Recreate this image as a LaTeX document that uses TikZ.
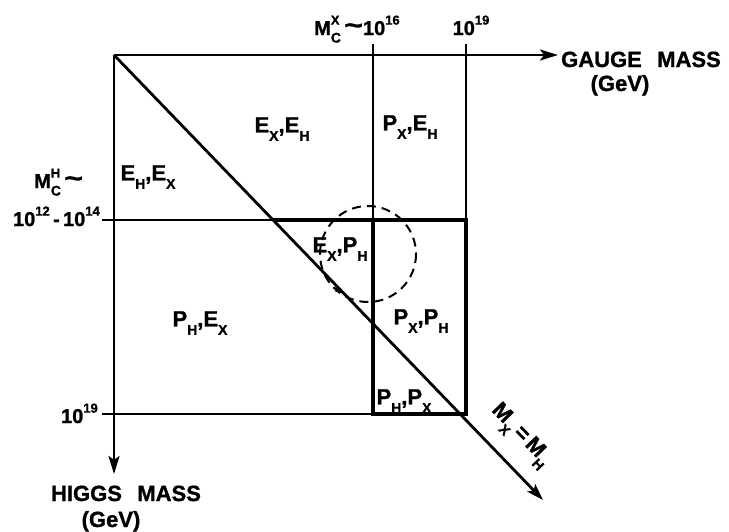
\documentclass[tikz,border=0pt]{standalone}
\usepackage{fontspec}
\setmainfont{Liberation Sans}[BoldFeatures={FakeBold=1.2}]
\usetikzlibrary{arrows.meta}
\newcommand\lo[1]{\raisebox{-0.38em}{\fontsize{14}{14}\selectfont\bfseries #1}}
\newcommand\hi[1]{\raisebox{0.52em}{\fontsize{13}{13}\selectfont\bfseries #1}}
\newcommand\hilo[2]{\makebox[0pt][l]{\hi{#1}}\lo{#2}}
\newcommand\tld{\raisebox{0.05em}{\scalebox{1.6}[1.3]{\textasciitilde}}}
\begin{document}
\begin{tikzpicture}[x=1pt,y=-1pt,
  thinline/.style={line width=1.9pt},
  axisline/.style={line width=2.6pt,-{Stealth[length=18pt,width=11pt,inset=4pt]}},
  boxline/.style={line width=3.2pt},
  dashcirc/.style={line width=2pt,dash pattern=on 9pt off 6pt},
  lbl/.style={font=\fontsize{22}{24}\selectfont\bfseries,inner sep=0pt},
  region/.style={font=\fontsize{22}{24}\selectfont\bfseries,inner sep=0pt},
  ticklbl/.style={font=\fontsize{20}{21}\selectfont\bfseries,inner sep=0pt}]
\useasboundingbox (0,0) rectangle (729,531);
% coordinates
\coordinate (O) at (114,55);
\coordinate (GX) at (558,55);
\coordinate (HY) at (114,474);
\coordinate (DE) at (543,500);
\coordinate (A1) at (373,44);
\coordinate (A3) at (373,220);
\coordinate (A2) at (373,414);
\coordinate (B1) at (466,44);
\coordinate (B2) at (466,414);
\coordinate (C1) at (102,220);
\coordinate (C2) at (466,220);
\coordinate (D1) at (102,414);
\coordinate (X1) at (273,220);
% thin grid lines
\draw[thinline] (A1) -- (A3);
\draw[thinline] (B1) -- (C2);
\draw[thinline] (C1) -- (X1);
\draw[thinline] (D1) -- (A2);
% thick inner box
\draw[boxline,line join=miter] (X1) -- (C2) -- (B2) -- (A2) -- (A3);
% axes
\draw[axisline] (O) -- (GX);
\draw[axisline] (O) -- (HY);
\draw[line width=2.8pt,-{Stealth[length=17pt,width=11pt,inset=4pt]}] (O) -- (DE);
% dashed circle
\draw[dashcirc] (368,254) circle (48);
\draw[line width=1.6pt,-{Stealth[length=8pt,width=6pt]}] (335,288) -- (343,293);
% axis labels
\node[lbl,anchor=base] (gm) at (641,67) {GAUGE\hspace{0.7em}MASS};
\node[lbl,anchor=base] (gg) at (620,91) {(GeV)};
\node[lbl,anchor=base] (hm) at (126,501) {HIGGS\hspace{0.7em}MASS};
\node[lbl,anchor=base] (hg) at (111,527) {(GeV)};
% tick labels
\node[ticklbl,anchor=base west] (mcx) at (314,35) {M\hilo{X}{C}\,\tld10\hi{16}};
\node[ticklbl,anchor=base] (t19) at (471,35) {10\hi{19}};
\node[ticklbl,anchor=base west] (mch) at (34,188) {M\hilo{H}{C}\,\tld};
\node[ticklbl,anchor=base east] (t1214) at (100,226) {10\hi{12}\,-\,10\hi{14}};
\node[ticklbl,anchor=base east] (t19b) at (98,423) {10\hi{19}};
% region labels
\node[region] (r1) at (282,129) {E\lo{X},E\lo{H}};
\node[region] (r2) at (410,127) {P\lo{X},E\lo{H}};
\node[region] (r3) at (148,177) {E\lo{H},E\lo{X}};
\node[region] (r4) at (340,249) {E\lo{X},P\lo{H}};
\node[region] (r5) at (200,323) {P\lo{H},E\lo{X}};
\node[region] (r6) at (421,321) {P\lo{X},P\lo{H}};
\node[region] (r7) at (404,401) {P\lo{H},P\lo{X}};
% diagonal label
\node[region,rotate=-46] (mxmh) at (520,436) {M\lo{X}\,=\,M\lo{H}};
\end{tikzpicture}
\end{document}
